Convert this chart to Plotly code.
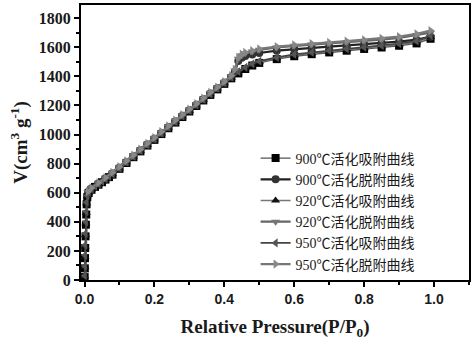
import plotly.graph_objects as go

# Relative pressure grids (adsorption branch and desorption branch)
p_ads = [0.0005, 0.001, 0.0015, 0.002, 0.003, 0.004, 0.005, 0.006, 0.008,
         0.012, 0.02, 0.03, 0.04, 0.05, 0.06, 0.07, 0.08, 0.10, 0.12, 0.14,
         0.16, 0.18, 0.20, 0.22, 0.24, 0.26, 0.28, 0.30, 0.32, 0.34, 0.36,
         0.38, 0.40, 0.42, 0.44, 0.46, 0.48, 0.50, 0.55, 0.60, 0.65, 0.70,
         0.75, 0.80, 0.85, 0.90, 0.95, 0.99]
p_des = [0.99, 0.95, 0.90, 0.85, 0.80, 0.75, 0.70, 0.65, 0.60, 0.55, 0.50,
         0.48, 0.46, 0.45, 0.44, 0.43, 0.42, 0.40, 0.38, 0.36, 0.34, 0.32,
         0.30, 0.28, 0.26, 0.24, 0.22, 0.20, 0.18, 0.16, 0.14, 0.12, 0.10,
         0.08, 0.06, 0.04, 0.02, 0.01]

# Adsorbed volume, cm3/g
v_900_ads = [20, 80, 150, 220, 300, 380, 450, 520, 570,
             598, 620, 640, 655, 672, 690, 707, 724, 764, 804, 844,
             884, 924, 963, 1003, 1043, 1082, 1120, 1158, 1196, 1234, 1272,
             1310, 1348, 1386, 1420, 1450, 1474, 1492, 1518, 1538, 1552, 1564,
             1576, 1588, 1598, 1610, 1626, 1658]
v_920_ads = [25, 90, 160, 230, 310, 390, 460, 528, 575,
             600, 622, 642, 658, 675, 693, 710, 727, 767, 807, 847,
             887, 927, 967, 1007, 1047, 1086, 1124, 1162, 1200, 1238, 1276,
             1314, 1352, 1390, 1426, 1456, 1480, 1498, 1524, 1544, 1558, 1570,
             1582, 1594, 1604, 1616, 1634, 1668]
v_950_ads = [30, 95, 170, 240, 320, 400, 470, 535, 580,
             603, 625, 645, 661, 678, 696, 713, 730, 770, 810, 850,
             890, 930, 970, 1010, 1050, 1090, 1128, 1166, 1204, 1242, 1280,
             1318, 1356, 1394, 1432, 1462, 1486, 1504, 1530, 1550, 1564, 1576,
             1588, 1600, 1611, 1624, 1642, 1680]
v_900_des = [1672, 1652, 1638, 1628, 1620, 1612, 1604, 1596, 1588, 1576, 1560,
             1550, 1540, 1528, 1505, 1430, 1396, 1356, 1318, 1281, 1242, 1204,
             1166, 1128, 1090, 1051, 1011, 971, 931, 891, 851, 811, 771,
             732, 697, 663, 628, 604]
v_920_des = [1700, 1682, 1664, 1652, 1642, 1634, 1626, 1618, 1610, 1598, 1582,
             1570, 1558, 1545, 1520, 1440, 1400, 1360, 1322, 1285, 1246, 1208,
             1170, 1132, 1094, 1055, 1015, 975, 935, 895, 855, 815, 775,
             735, 700, 665, 630, 605]
v_950_des = [1714, 1692, 1673, 1661, 1651, 1642, 1633, 1625, 1616, 1604, 1588,
             1576, 1564, 1552, 1530, 1448, 1404, 1364, 1326, 1289, 1250, 1212,
             1174, 1136, 1098, 1059, 1019, 979, 939, 899, 859, 819, 779,
             739, 703, 668, 633, 607]

names = ["900℃活化吸附曲线", "900℃活化脱附曲线", "920℃活化吸附曲线",
         "920℃活化脱附曲线", "950℃活化吸附曲线", "950℃活化脱附曲线"]

series = [
    (p_ads, v_900_ads, "square", "#000000", "#555555", 1.4),
    (p_des, v_900_des, "circle", "#333333", "#222222", 2.2),
    (p_ads, v_920_ads, "triangle-up", "#111111", "#777777", 1.4),
    (p_des, v_920_des, "triangle-down", "#777777", "#666666", 2.2),
    (p_ads, v_950_ads, "triangle-left", "#555555", "#444444", 1.8),
    (p_des, v_950_des, "triangle-right", "#888888", "#777777", 2.2),
]

fig = go.Figure()
for name, (px, vy, sym, mcol, lcol, lw) in zip(names, series):
    fig.add_trace(go.Scatter(
        x=px, y=vy, name=name, mode="lines+markers",
        line=dict(color=lcol, width=lw),
        marker=dict(symbol=sym, size=8, color=mcol),
    ))

axis_common = dict(
    showline=True, linecolor="black", linewidth=2, mirror=True,
    ticks="outside", tickwidth=2, ticklen=5, tickcolor="black",
    showgrid=False, zeroline=False,
)

fig.update_xaxes(
    range=[-0.01, 1.1], tick0=0, dtick=0.2, tickformat=".1f",
    minor=dict(ticks="outside", dtick=0.1, ticklen=3, tickwidth=2, tickcolor="black"),
    tickfont=dict(family="Liberation Sans", size=14, color="#1a1a1a", weight="bold"),
    title=dict(text="<b>Relative Pressure(P/P<sub>0</sub>)</b>",
               font=dict(family="Liberation Serif", size=19, color="#1a1a1a"),
               standoff=14),
    **axis_common,
)
fig.update_yaxes(
    range=[0, 1890], tick0=0, dtick=200,
    minor=dict(ticks="outside", dtick=100, ticklen=3, tickwidth=2, tickcolor="black"),
    tickfont=dict(family="Liberation Serif", size=16, color="#1a1a1a", weight="bold"),
    title=dict(text="<b>V(cm<sup>3</sup> g<sup>-1</sup>)</b>",
               font=dict(family="Liberation Serif", size=19, color="#1a1a1a"),
               standoff=6),
    **axis_common,
)

fig.update_layout(
    width=474, height=344,
    margin=dict(l=81, r=4, t=3, b=64),
    paper_bgcolor="white", plot_bgcolor="white",
    showlegend=True,
    legend=dict(
        x=0.45, y=0.50, xanchor="left", yanchor="top",
        bgcolor="rgba(0,0,0,0)", borderwidth=0,
        font=dict(family="Liberation Serif, Noto Sans CJK SC", size=14, color="#1a1a1a"),
        tracegroupgap=0, itemwidth=30,
    ),
)

fig.write_html("out.html")
